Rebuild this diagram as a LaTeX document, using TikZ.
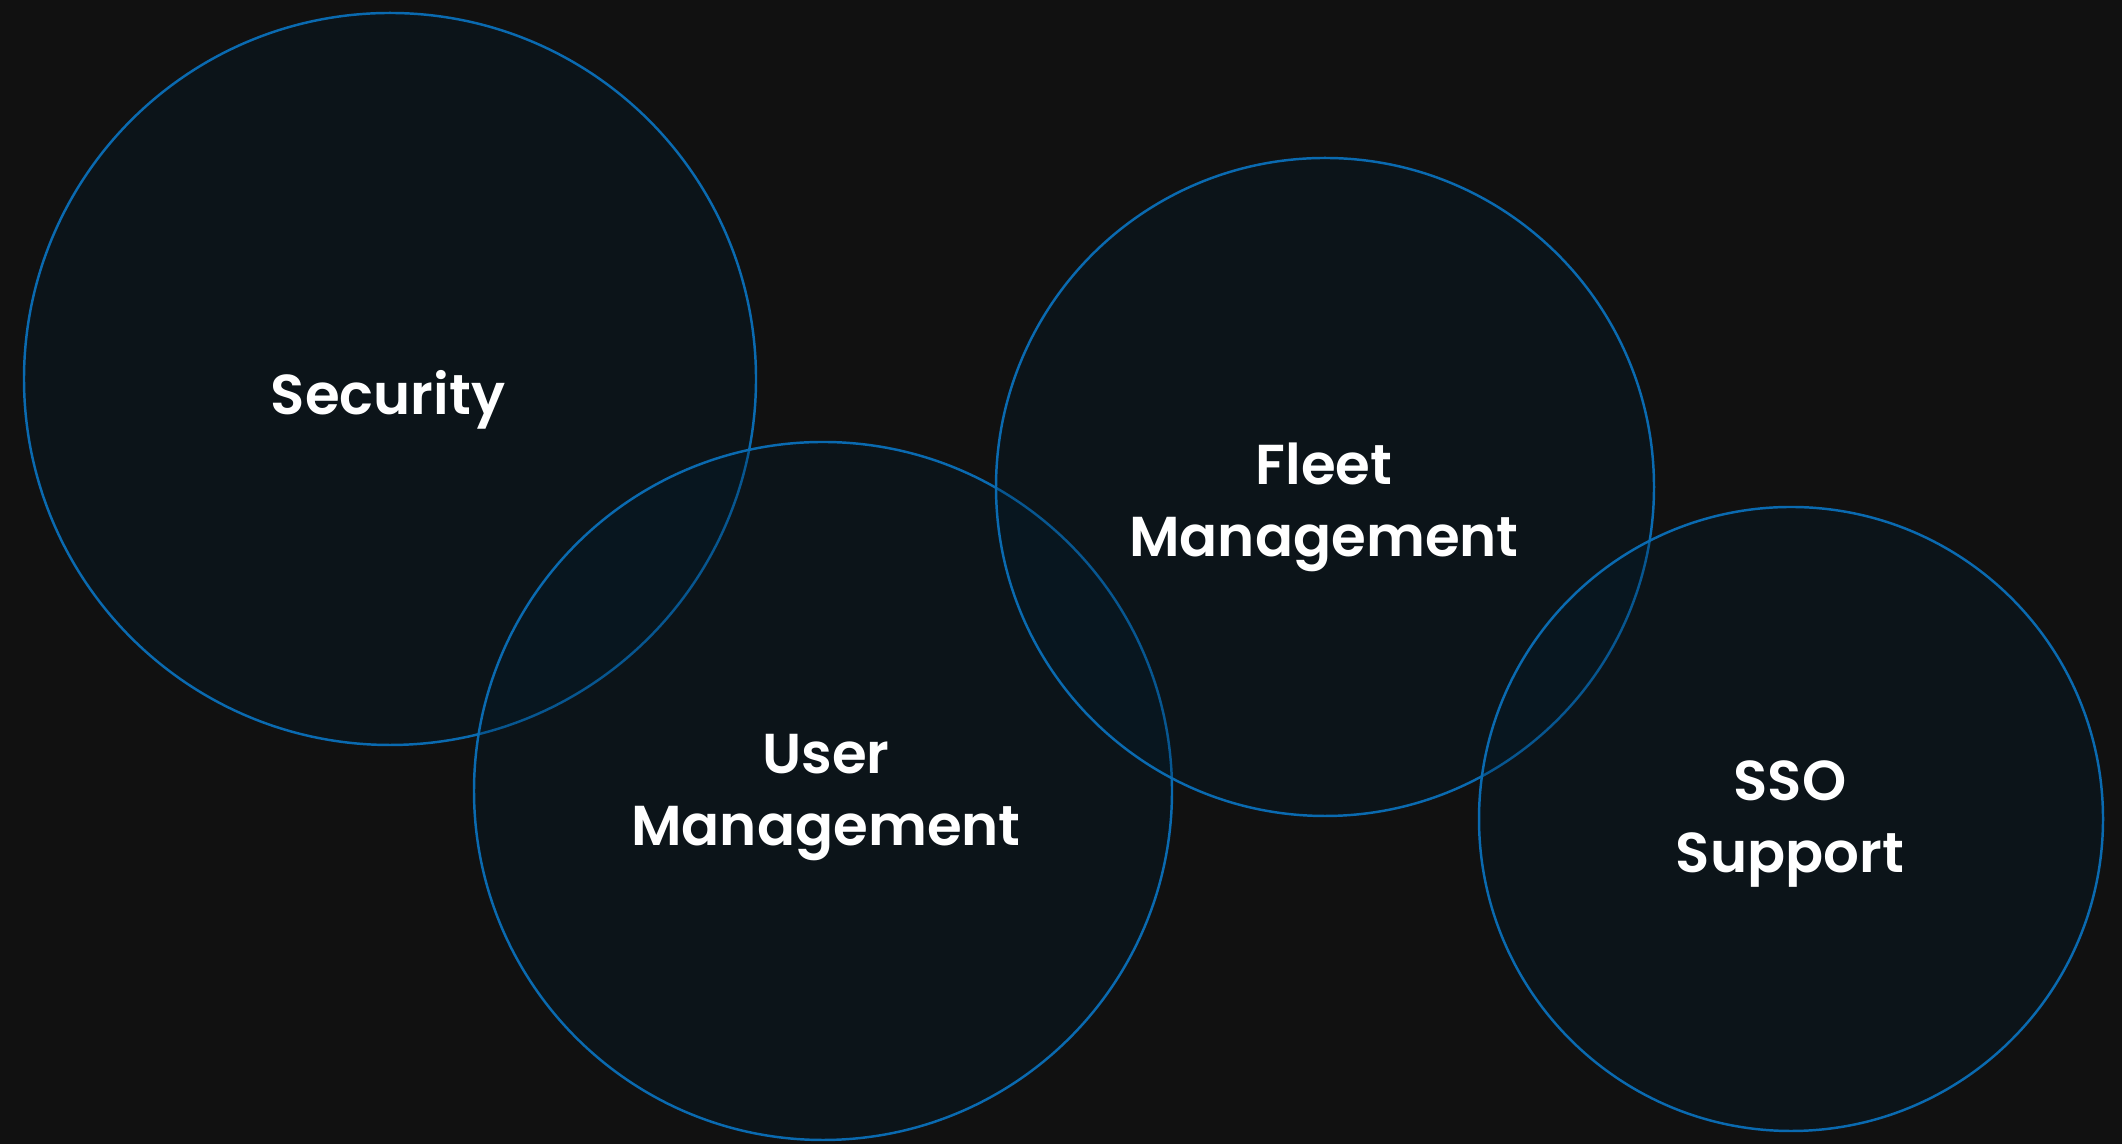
\documentclass[tikz,border=0pt]{standalone}
\usepackage{fontspec}
\setmainfont{Poppins}[UprightFont={* SemiBold}]
\usepackage{tikz}
\definecolor{bg}{HTML}{111111}
\definecolor{ring}{HTML}{0A6AB0}
\definecolor{disc}{HTML}{001D31}
\tikzset{every node/.style={font=\fontsize{16pt}{20.7pt}\selectfont}}
\tikzset{area/.style={circle, draw=ring, line width=0.7pt, fill=disc, fill opacity=0.25, draw opacity=1, inner sep=0pt},
         tag/.style={text=white, align=center, anchor=base}}

\begin{document}
\begin{tikzpicture}
  \useasboundingbox (0,0) rectangle (21.22,11.44);
  \fill[bg] (0,0) rectangle (21.22,11.44);
  \clip (0,0) rectangle (21.22,11.44);
  % the four areas
  \node[area, minimum size=7.32cm] (sec) at (3.90,7.65) {};
  \node[area, minimum size=6.98cm] (usr) at (8.23,3.53) {};
  \node[area, minimum size=6.58cm] (flt) at (13.25,6.57) {};
  \node[area, minimum size=6.24cm] (sso) at (17.91,3.25) {};
  % labels (base = last line)
  \node[tag] (secl) at (3.88,7.29) {Security};
  \node[tag] (usrl) at (8.26,2.98) {User\\Management};
  \node[tag] (fltl) at (13.24,5.87) {Fleet\\Management};
  \node[tag] (ssol) at (17.90,2.71) {SSO\\Support};
\end{tikzpicture}
\end{document}
